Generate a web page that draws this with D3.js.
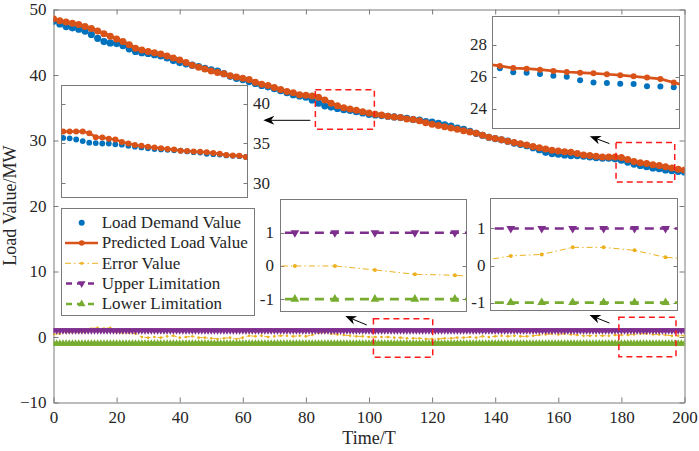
<!DOCTYPE html>
<html>
<head>
<meta charset="utf-8">
<script src="https://cdn.jsdelivr.net/npm/d3@7"></script>
<style>
body { margin: 0; background: #fff; }
svg { display: block; }
text { font-family: "Liberation Serif", "Times New Roman", serif; fill: #262626; }
</style>
</head>
<body>
<svg width="699" height="451"></svg>
<script>
// ---- data ----
var timeSteps = d3.range(0, 201, 2);
var predicted = [48.6,48.3,48.1,47.9,47.7,47.4,47.1,46.7,46.3,45.9,45.5,45.1,44.6,44.1,43.8,43.6,43.4,43.2,42.9,42.6,
    42.3,41.9,41.5,41.2,40.9,40.6,40.4,40.2,39.9,39.7,39.5,39.3,38.9,38.6,38.4,38.1,37.8,37.5,37.3,37.0,
    36.9,36.8,36.6,36.2,35.7,35.3,35.0,34.8,34.6,34.4,34.2,34.0,33.9,33.7,33.6,33.5,33.3,33.2,33.0,32.7,
    32.5,32.3,32.1,31.9,31.7,31.5,31.3,31.1,30.8,30.5,30.3,30.1,29.9,29.7,29.5,29.3,29.1,28.9,28.7,28.5,
    28.4,28.3,28.2,28.0,27.8,27.7,27.6,27.5,27.5,27.5,27.4,27.1,26.8,26.6,26.5,26.3,26.2,26.0,25.8,25.6,25.5];
var demand = [48.2,47.8,47.4,47.2,47.0,46.7,46.2,45.6,45.1,44.9,44.8,44.5,44.0,43.6,43.4,43.3,43.1,42.9,42.6,42.2,
    41.9,41.7,41.5,41.3,41.0,40.8,40.6,40.2,39.8,39.5,39.3,39.0,38.7,38.4,38.2,37.9,37.6,37.3,37.0,36.8,
    36.6,36.2,35.7,35.3,35.1,34.9,34.7,34.6,34.4,34.2,34.0,33.9,33.8,33.7,33.6,33.5,33.4,33.2,33.1,32.9,
    32.8,32.6,32.4,32.2,31.9,31.7,31.4,31.1,30.8,30.5,30.3,30.1,29.9,29.6,29.4,29.2,28.9,28.6,28.2,28.0,
    27.9,27.8,27.7,27.7,27.6,27.5,27.4,27.3,27.3,27.2,27.0,26.7,26.4,26.2,26.0,25.8,25.7,25.5,25.4,25.3,25.2];
var errorVal = [0.4,0.5,0.7,0.7,0.7,0.7,1.3,1.4,1.3,1.4,0.7,0.6,0.6,0.5,0.0,-0.1,0.0,-0.1,0.1,0.2,
    -0.1,0.0,0.1,-0.1,-0.1,-0.2,-0.3,-0.2,-0.1,-0.3,-0.1,0.2,0.1,0.2,0.0,0.1,0.2,0.2,0.1,0.2,
    0.1,0.3,0.6,0.7,0.5,0.4,0.3,0.2,0.1,0.1,0.0,0.0,0.0,0.0,-0.1,-0.1,-0.2,-0.2,-0.2,-0.3,
    -0.3,-0.3,-0.2,-0.2,-0.1,-0.1,0.0,-0.1,0.1,0.0,0.1,0.2,0.1,0.2,0.1,0.1,0.2,0.3,0.4,0.5,
    0.4,0.5,0.4,0.3,0.2,0.2,0.2,0.2,0.2,0.3,0.3,0.3,0.4,0.5,0.5,0.4,0.4,0.3,0.2,0.2,0.2];
var limitSteps = d3.range(0, 201);
var upperLimit = 1;
var lowerLimit = -1;

var xTicks = [0, 20, 40, 60, 80, 100, 120, 140, 160, 180, 200];
var yTicks = [-10, 0, 10, 20, 30, 40, 50];

// zoom A: T 83-101
var zoomAPred = [36.5,36.5,36.5,36.5,36.3,35.8,35.75,35.6,35.5,35.2,35.0,34.8,34.7,34.6,34.5,34.4,34.3,34.25,34.1,34.05,
    34.0,33.95,33.9,33.8,33.7,33.55,33.5,33.45,33.3];
var zoomALoad = [35.7,35.65,35.5,35.3,35.1,35.05,35.0,35.0,34.9,34.85,34.7,34.6,34.5,34.4,34.3,34.25,34.2,34.15,34.1,34.0,
    33.9,33.85,33.7,33.65,33.6,33.5,33.45,33.4,33.3];
// zoom B: T 178-197 (predicted runs past both edges)
var zoomBPredIdx = d3.range(-1, 15);
var zoomBPred = [26.78,26.67,26.54,26.5,26.44,26.36,26.29,26.25,26.21,26.15,26.09,26.02,25.94,25.86,25.63,25.4];
var zoomBLoad = [26.52,26.27,26.25,26.17,26.06,26.0,25.77,25.63,25.6,25.56,25.54,25.4,25.38,25.34];
// zoom C: T 101-120 ; zoom D: T 179-197 (error runs past both edges)
var zoomCIdx = d3.range(-1, 6);
var zoomCError = [0, 0, 0, -0.12, -0.25, -0.28, -0.36];
var zoomDIdx = d3.range(-1, 7);
var zoomDError = [0.12, 0.26, 0.30, 0.49, 0.49, 0.41, 0.22, 0.17];

// marked areas [t0, t1, v0, v1] and arrows [tTail, vTail, tTip, vTip]
var zoomAreas = [[83, 101.7, 31.7, 37.75], [178.3, 196.9, 23.67, 29.68], [101.4, 120.2, -3.1, 2.8], [179.2, 197.3, -3.0, 3.0]];
var arrows = [[81.4, 33.08, 66.5, 33.08], [176.2, 29.53, 170.0, 30.64], [99.3, 1.83, 92.5, 3.2], [176.2, 2.13, 169.9, 3.35]];

var legendNames = ['Load Demand Value', 'Predicted Load Value', 'Error Value', 'Upper Limitation', 'Lower Limitation'];

var BLUE = '#0072BD', ORANGE = '#D95319', YELLOW = '#EDB120', PURPLE = '#7E2F8E', GREEN = '#77AC30';
var AXIS = '#7a7a7a';

// ---- main axes ----
var svg = d3.select('svg');
var defs = svg.append('defs');
var scaleX = d3.scaleLinear().domain([0, 200]).range([53.5, 684.5]);
var scaleY = d3.scaleLinear().domain([-10, 50]).range([402.5, 9.5]);

defs.append('clipPath').attr('id', 'clipMain').append('rect')
    .attr('x', 53.5).attr('y', 9.5).attr('width', 631).attr('height', 393);

function styleAxis(g) {
    g.selectAll('.domain').attr('stroke', AXIS);
    g.selectAll('.tick line').attr('stroke', AXIS);
    g.selectAll('.tick text').attr('fill', '#262626').style('font-size', '17px')
        .style('font-family', '"Liberation Serif", "Times New Roman", serif');
}

svg.append('g').attr('transform', 'translate(0,402.5)')
    .call(d3.axisBottom(scaleX).tickValues(xTicks).tickSizeInner(-5).tickSizeOuter(0).tickPadding(8.5))
    .call(styleAxis);
svg.append('g').attr('transform', 'translate(0,9.5)')
    .call(d3.axisTop(scaleX).tickValues(xTicks).tickSizeInner(-5).tickSizeOuter(0).tickFormat(''))
    .call(styleAxis);
svg.append('g').attr('transform', 'translate(53.5,0)')
    .call(d3.axisLeft(scaleY).tickValues(yTicks).tickSizeInner(-5).tickSizeOuter(0).tickPadding(7))
    .call(styleAxis);
svg.append('g').attr('transform', 'translate(684.5,0)')
    .call(d3.axisRight(scaleY).tickValues(yTicks).tickSizeInner(-5).tickSizeOuter(0).tickFormat(''))
    .call(styleAxis);

svg.append('text').attr('x', 369).attr('y', 444).attr('text-anchor', 'middle')
    .attr('font-size', 18).text('Time/T');
svg.append('text').attr('transform', 'translate(16,205.7) rotate(-90)').attr('text-anchor', 'middle')
    .attr('font-size', 18).text('Load Value/MW');

// ---- series drawing helpers ----
function pts(xVals, vals) {
    return vals.map(function (v, i) { return { x: xVals[i], v: v }; });
}
var triUp = d3.symbol().type(d3.symbolTriangle);
function drawLimit(g, xs, ys, xVals, value, color, down, triSize, lw, lineFrom, lineTo) {
    g.append('line')
        .attr('x1', xs(lineFrom)).attr('x2', xs(lineTo))
        .attr('y1', ys(value)).attr('y2', ys(value))
        .attr('stroke', color).attr('stroke-width', lw).attr('stroke-dasharray', '9,6');
    g.selectAll(null).data(xVals).enter().append('path')
        .attr('d', triUp.size(triSize)())
        .attr('transform', function (d) {
            return 'translate(' + xs(d) + ',' + ys(value) + ')' + (down ? ' rotate(180)' : '');
        })
        .attr('fill', color);
}
function drawError(g, xs, ys, xVals, vals, r, keep) {
    var data = pts(xVals, vals);
    g.append('path')
        .attr('d', d3.line().x(function (d) { return xs(d.x); }).y(function (d) { return ys(d.v); })(data))
        .attr('fill', 'none').attr('stroke', YELLOW).attr('stroke-width', 1)
        .attr('stroke-dasharray', '6,3,1.5,3');
    g.selectAll(null).data(data.filter(function (d) { return !keep || keep(d.x); }))
        .enter().append('circle')
        .attr('cx', function (d) { return xs(d.x); })
        .attr('cy', function (d) { return ys(d.v); })
        .attr('r', r).attr('fill', YELLOW);
}
function drawDots(g, xs, ys, xVals, vals, r, color) {
    g.selectAll(null).data(pts(xVals, vals)).enter().append('circle')
        .attr('cx', function (d) { return xs(d.x); })
        .attr('cy', function (d) { return ys(d.v); })
        .attr('r', r).attr('fill', color);
}
function drawPredLine(g, xs, ys, xVals, vals, lw) {
    g.append('path')
        .attr('d', d3.line().x(function (d) { return xs(d.x); }).y(function (d) { return ys(d.v); })(pts(xVals, vals)))
        .attr('fill', 'none').attr('stroke', ORANGE).attr('stroke-width', lw);
}

// ---- main series ----
var plot = svg.append('g').attr('clip-path', 'url(#clipMain)');
drawDots(plot, scaleX, scaleY, timeSteps, demand, 3.6, BLUE);
drawPredLine(plot, scaleX, scaleY, timeSteps, predicted, 3.5);
drawDots(plot, scaleX, scaleY, timeSteps, predicted, 3.5, ORANGE);
drawError(plot, scaleX, scaleY, timeSteps, errorVal, 1.3);
drawLimit(plot, scaleX, scaleY, limitSteps, upperLimit, PURPLE, true, 24, 2, 0, 200);
drawLimit(plot, scaleX, scaleY, limitSteps, lowerLimit, GREEN, false, 24, 2, 0, 200);

// ---- marked areas and arrows ----
svg.selectAll(null).data(zoomAreas).enter().append('rect')
    .attr('x', function (d) { return scaleX(d[0]); })
    .attr('y', function (d) { return scaleY(d[3]); })
    .attr('width', function (d) { return scaleX(d[1]) - scaleX(d[0]); })
    .attr('height', function (d) { return scaleY(d[2]) - scaleY(d[3]); })
    .attr('fill', 'none').attr('stroke', '#ff1a1a').attr('stroke-width', 1.5)
    .attr('stroke-dasharray', '6,4');

arrows.forEach(function (a) {
    var x1 = scaleX(a[0]), y1 = scaleY(a[1]), x2 = scaleX(a[2]), y2 = scaleY(a[3]);
    var ang = Math.atan2(y2 - y1, x2 - x1), L = 11, Wd = 4.5;
    var bx = x2 - L * Math.cos(ang), by = y2 - L * Math.sin(ang);
    var nx = x2 - 0.7 * L * Math.cos(ang), ny = y2 - 0.7 * L * Math.sin(ang);
    svg.append('line').attr('x1', x1).attr('y1', y1).attr('x2', nx).attr('y2', ny)
        .attr('stroke', '#000').attr('stroke-width', 1);
    var p = [[x2, y2],
        [bx - Wd * Math.sin(ang), by + Wd * Math.cos(ang)],
        [nx, ny],
        [bx + Wd * Math.sin(ang), by - Wd * Math.cos(ang)]];
    svg.append('path').attr('d', 'M' + p.join('L') + 'Z').attr('fill', '#000');
});

// ---- insets ----
function inset(id, box, xd, yd, ticks, labelRight, labelX) {
    var g = svg.append('g');
    var sx = d3.scaleLinear().domain(xd).range([box[0], box[1]]);
    var sy = d3.scaleLinear().domain(yd).range([box[3], box[2]]);
    g.append('rect').attr('x', box[0]).attr('y', box[2])
        .attr('width', box[1] - box[0]).attr('height', box[3] - box[2])
        .attr('fill', '#fff').attr('stroke', AXIS).attr('stroke-width', 1);
    defs.append('clipPath').attr('id', id).append('rect')
        .attr('x', box[0]).attr('y', box[2]).attr('width', box[1] - box[0]).attr('height', box[3] - box[2]);
    ticks.forEach(function (t) {
        var ty = Math.round(sy(t)) + 0.5;
        g.append('line').attr('x1', box[0]).attr('x2', box[0] + 4).attr('y1', ty).attr('y2', ty).attr('stroke', AXIS);
        g.append('line').attr('x1', box[1] - 4).attr('x2', box[1]).attr('y1', ty).attr('y2', ty).attr('stroke', AXIS);
        g.append('text').attr('x', labelX).attr('y', sy(t)).attr('dy', '0.32em')
            .attr('text-anchor', labelRight ? 'start' : 'end').attr('font-size', 17).text(t);
    });
    var inner = g.append('g').attr('clip-path', 'url(#' + id + ')');
    return { g: inner, sx: sx, sy: sy };
}

var zA = inset('clipA', [61.5, 247.5, 85.5, 197.5], [-0.25, 28.25], [28.2, 42.3], [30, 35, 40], true, 253);
var idxA = d3.range(zoomAPred.length);
drawDots(zA.g, zA.sx, zA.sy, idxA, zoomALoad, 2.9, BLUE);
drawPredLine(zA.g, zA.sx, zA.sy, idxA, zoomAPred, 2.5);
drawDots(zA.g, zA.sx, zA.sy, idxA, zoomAPred, 3, ORANGE);

var zB = inset('clipB', [492.5, 679.5, 16.5, 128.5], [-0.55, 13.43], [22.75, 29.77], [24, 26, 28], false, 487);
drawDots(zB.g, zB.sx, zB.sy, d3.range(zoomBLoad.length), zoomBLoad, 3, BLUE);
drawPredLine(zB.g, zB.sx, zB.sy, zoomBPredIdx, zoomBPred, 2.7);
drawDots(zB.g, zB.sx, zB.sy, zoomBPredIdx, zoomBPred, 3, ORANGE);

var zC = inset('clipC', [280.5, 466.5, 199.5, 311.5], [-0.36, 4.29], [-1.37, 2.0], [-1, 0, 1], false, 274);
drawError(zC.g, zC.sx, zC.sy, zoomCIdx, zoomCError, 2, function (i) { return i >= 0 && i <= 4; });
drawLimit(zC.g, zC.sx, zC.sy, d3.range(5), upperLimit, PURPLE, true, 34, 2.7, -1, 5);
drawLimit(zC.g, zC.sx, zC.sy, d3.range(5), lowerLimit, GREEN, false, 34, 2.7, -1, 5);

var zD = inset('clipD', [490.5, 677.5, 198.5, 310.5], [-0.655, 5.387], [-1.215, 1.81], [-1, 0, 1], false, 485.5);
drawError(zD.g, zD.sx, zD.sy, zoomDIdx, zoomDError, 2, function (i) { return i >= 0 && i <= 5; });
drawLimit(zD.g, zD.sx, zD.sy, d3.range(6), upperLimit, PURPLE, true, 34, 2.7, -1, 6);
drawLimit(zD.g, zD.sx, zD.sy, d3.range(6), lowerLimit, GREEN, false, 34, 2.7, -1, 6);

// ---- legend ----
var leg = svg.append('g');
leg.append('rect').attr('x', 61.5).attr('y', 208.5).attr('width', 193).attr('height', 107)
    .attr('fill', '#fff').attr('stroke', AXIS);
legendNames.forEach(function (name, i) {
    var cy = 222.7 + i * 20.3;
    var row = leg.append('g');
    if (i === 0) {
        row.append('circle').attr('cx', 81.7).attr('cy', cy).attr('r', 3).attr('fill', BLUE);
    } else if (i === 1) {
        row.append('line').attr('x1', 65).attr('x2', 98).attr('y1', cy).attr('y2', cy)
            .attr('stroke', ORANGE).attr('stroke-width', 2.5);
        row.append('circle').attr('cx', 81.7).attr('cy', cy).attr('r', 2.8).attr('fill', ORANGE);
    } else if (i === 2) {
        row.append('line').attr('x1', 65).attr('x2', 98).attr('y1', cy).attr('y2', cy)
            .attr('stroke', YELLOW).attr('stroke-width', 1).attr('stroke-dasharray', '6,3,1.5,3');
        row.append('circle').attr('cx', 81.7).attr('cy', cy).attr('r', 1.6).attr('fill', YELLOW);
    } else {
        var c = i === 3 ? PURPLE : GREEN;
        row.append('line').attr('x1', 66).attr('x2', 98).attr('y1', cy).attr('y2', cy)
            .attr('stroke', c).attr('stroke-width', 2.5).attr('stroke-dasharray', '6,5');
        row.append('path').attr('d', triUp.size(26)())
            .attr('transform', 'translate(81.7,' + cy + ')' + (i === 3 ? ' rotate(180)' : ''))
            .attr('fill', c);
    }
    row.append('text').attr('x', 101.7).attr('y', cy).attr('dy', '0.32em')
        .attr('font-size', 17).text(name);
});
</script>
</body>
</html>
